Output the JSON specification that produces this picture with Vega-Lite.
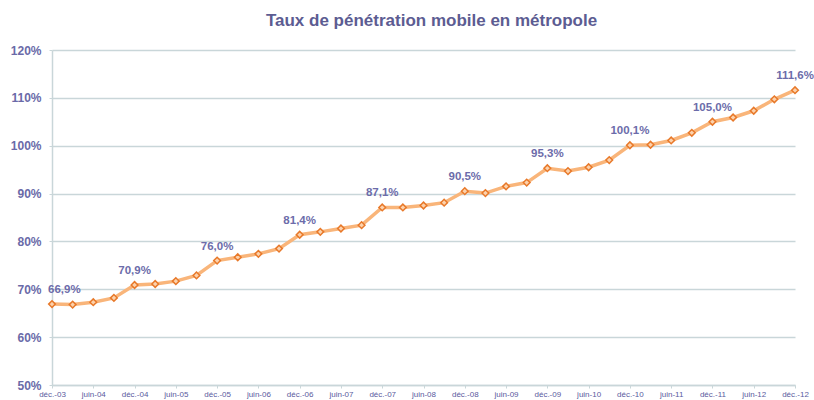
{
  "$schema": "https://vega.github.io/schema/vega-lite/v6.json",
  "width": 743,
  "height": 335,
  "autosize": "none",
  "padding": {"left": 52, "top": 50, "right": 19, "bottom": 15},
  "background": "white",
  "config": {
    "locale": {"number": {"decimal": ",", "thousands": " ", "grouping": [3], "currency": ["", " €"]}},
    "view": {"stroke": null},
    "font": "Liberation Sans"
  },
  "title": {
    "text": "Taux de pénétration mobile en métropole",
    "fontSize": 17,
    "fontWeight": "bold",
    "color": "#5c5c92",
    "offset": 14,
    "anchor": "middle",
    "dx": 8
  },
  "data": {
    "values": [
      {"periode": "déc.-03", "taux": 0.669, "lib": true},
      {"periode": "mars-04", "taux": 0.668, "lib": false},
      {"periode": "juin-04", "taux": 0.673, "lib": false},
      {"periode": "sept.-04", "taux": 0.682, "lib": false},
      {"periode": "déc.-04", "taux": 0.709, "lib": true},
      {"periode": "mars-05", "taux": 0.711, "lib": false},
      {"periode": "juin-05", "taux": 0.717, "lib": false},
      {"periode": "sept.-05", "taux": 0.729, "lib": false},
      {"periode": "déc.-05", "taux": 0.760, "lib": true},
      {"periode": "mars-06", "taux": 0.767, "lib": false},
      {"periode": "juin-06", "taux": 0.774, "lib": false},
      {"periode": "sept.-06", "taux": 0.785, "lib": false},
      {"periode": "déc.-06", "taux": 0.814, "lib": true},
      {"periode": "mars-07", "taux": 0.820, "lib": false},
      {"periode": "juin-07", "taux": 0.827, "lib": false},
      {"periode": "sept.-07", "taux": 0.834, "lib": false},
      {"periode": "déc.-07", "taux": 0.871, "lib": true},
      {"periode": "mars-08", "taux": 0.871, "lib": false},
      {"periode": "juin-08", "taux": 0.875, "lib": false},
      {"periode": "sept.-08", "taux": 0.881, "lib": false},
      {"periode": "déc.-08", "taux": 0.905, "lib": true},
      {"periode": "mars-09", "taux": 0.901, "lib": false},
      {"periode": "juin-09", "taux": 0.915, "lib": false},
      {"periode": "sept.-09", "taux": 0.923, "lib": false},
      {"periode": "déc.-09", "taux": 0.953, "lib": true},
      {"periode": "mars-10", "taux": 0.947, "lib": false},
      {"periode": "juin-10", "taux": 0.955, "lib": false},
      {"periode": "sept.-10", "taux": 0.970, "lib": false},
      {"periode": "déc.-10", "taux": 1.001, "lib": true},
      {"periode": "mars-11", "taux": 1.002, "lib": false},
      {"periode": "juin-11", "taux": 1.011, "lib": false},
      {"periode": "sept.-11", "taux": 1.027, "lib": false},
      {"periode": "déc.-11", "taux": 1.050, "lib": true},
      {"periode": "mars-12", "taux": 1.059, "lib": false},
      {"periode": "juin-12", "taux": 1.073, "lib": false},
      {"periode": "sept.-12", "taux": 1.097, "lib": false},
      {"periode": "déc.-12", "taux": 1.116, "lib": true}
    ]
  },
  "encoding": {
    "x": {
      "field": "periode",
      "type": "ordinal",
      "sort": null,
      "scale": {"type": "point", "padding": 0},
      "axis": {
        "title": null,
        "values": ["déc.-03", "juin-04", "déc.-04", "juin-05", "déc.-05", "juin-06", "déc.-06", "juin-07", "déc.-07", "juin-08", "déc.-08", "juin-09", "déc.-09", "juin-10", "déc.-10", "juin-11", "déc.-11", "juin-12", "déc.-12"],
        "labelAngle": 0,
        "labelFontSize": 8,
        "labelColor": "#5a5a9e",
        "labelPadding": 2,
        "domainColor": "#c9d6d9",
        "domainWidth": 1.5,
        "tickColor": "#c9d6d9",
        "tickSize": 3,
        "grid": false
      }
    },
    "y": {
      "field": "taux",
      "type": "quantitative",
      "scale": {"domain": [0.5, 1.2], "nice": false, "zero": false},
      "axis": {
        "title": null,
        "format": ".0%",
        "values": [0.5, 0.6, 0.7, 0.8, 0.9, 1.0, 1.1, 1.2],
        "labelFontSize": 12,
        "labelFontWeight": "bold",
        "labelColor": "#6a6aa8",
        "labelPadding": 8,
        "domainColor": "#c9d6d9",
        "domainWidth": 1.5,
        "tickColor": "#c9d6d9",
        "tickSize": 3,
        "gridColor": "#c9d6d9",
        "gridWidth": 1.5
      }
    }
  },
  "layer": [
    {
      "mark": {"type": "line", "color": "#f9b57a", "strokeWidth": 3.5}
    },
    {
      "mark": {"type": "point", "shape": "diamond", "filled": true, "fill": "#fcd2ac", "stroke": "#e8792a", "strokeWidth": 1.5, "size": 45, "opacity": 1}
    },
    {
      "transform": [{"filter": "datum.lib && datum.periode != 'déc.-03'"}],
      "mark": {"type": "text", "dy": -14, "fontSize": 11.5, "fontWeight": "bold", "color": "#6c6caa", "align": "center"},
      "encoding": {"text": {"field": "taux", "format": ".1%"}}
    },
    {
      "transform": [{"filter": "datum.periode == 'déc.-03'"}],
      "mark": {"type": "text", "dy": -14, "dx": -4, "fontSize": 11.5, "fontWeight": "bold", "color": "#6c6caa", "align": "left"},
      "encoding": {"text": {"field": "taux", "format": ".1%"}}
    }
  ]
}
